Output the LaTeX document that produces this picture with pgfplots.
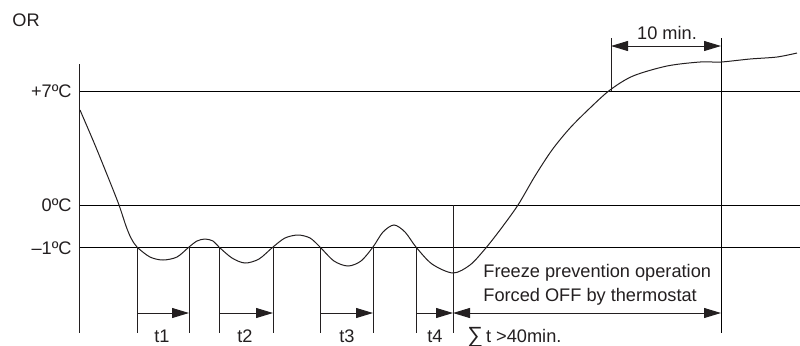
\documentclass[border=0pt]{standalone}
\usepackage{pgfplots}
\pgfplotsset{compat=1.18}
\usepackage{fontspec}
\setmainfont{Liberation Sans}
\usetikzlibrary{arrows.meta}
\definecolor{ink}{HTML}{231F20}
\definecolor{grid}{HTML}{4A4A4A}
\begin{document}
\begin{tikzpicture}[font=\fontsize{9.1}{11}\selectfont]
\useasboundingbox (0,0) rectangle (400pt,172.5pt);
\begin{axis}[
  x=0.5pt, y=0.5pt, y dir=reverse,
  xmin=0, xmax=800, ymin=0, ymax=345,
  hide axis, clip=false, anchor=south west, at={(0,0)},
  every axis plot/.append style={line width=0.5pt},
  harr/.style={ink, -{Triangle[length=8.5pt,width=5pt]}},
  darr/.style={ink, {Triangle[length=8.5pt,width=5pt]}-{Triangle[length=8.5pt,width=5pt]}},
]
% horizontal reference lines
\addplot[grid] coordinates {(79,91) (800,91)};
\addplot[grid] coordinates {(79,205) (800,205)};
\addplot[grid] coordinates {(79,247) (800,247)};
% vertical lines
\addplot[ink] coordinates {(79,64) (79,333)};
\addplot[ink] coordinates {(137,247) (137,333)};
\addplot[ink] coordinates {(189,247) (189,333)};
\addplot[ink] coordinates {(219,247) (219,333)};
\addplot[ink] coordinates {(273,247) (273,333)};
\addplot[ink] coordinates {(320,247) (320,333)};
\addplot[ink] coordinates {(373,247) (373,333)};
\addplot[ink] coordinates {(416,247) (416,333)};
\addplot[ink] coordinates {(453,205) (453,333)};
\addplot[ink] coordinates {(611,38) (611,91)};
\addplot[grid] coordinates {(721,38) (721,333)};
% temperature curve
\addplot[ink, smooth, tension=0.5] coordinates {
(80,110) (95,145) (110,182) (119,205) (126,226) (131,238)
(137,247) (150,257) (163,260) (177,257) (189,247) (197,241) (205,239) (213,241)
(219,247) (232,258) (245,263) (259,259) (273,247) (285,238) (298,235) (310,238)
(320,247) (334,261) (348,266) (361,261) (373,247) (383,232) (394,225) (405,232)
(416,247) (432,264) (453,273) (470,265) (485,249) (500,230) (518,205) (535,176)
(552,150) (570,128) (590,108) (610,90) (633,76) (667,66) (700,62)
(721,62) (750,59) (777,57) (797,53)};
% time arrows
\addplot[harr] coordinates {(137,313) (189,313)};
\addplot[harr] coordinates {(219,313) (273,313)};
\addplot[harr] coordinates {(320,313) (373,313)};
\addplot[harr] coordinates {(416,313) (453,313)};
\addplot[darr] coordinates {(453,313) (721,313)};
\addplot[darr] coordinates {(611,46) (721,46)};
% labels
\node[ink] at (axis cs:26,20) {OR};
\node[ink, anchor=east, inner sep=0pt] at (axis cs:72,91) {+7ºC};
\node[ink, anchor=east, inner sep=0pt] at (axis cs:72,205) {0ºC};
\node[ink, anchor=east, inner sep=0pt] at (axis cs:72,248) {–1ºC};
\node[ink, inner sep=0pt] at (axis cs:667,33) {10 min.};
\node[ink, anchor=base west, inner sep=0pt] at (axis cs:483,277) {Freeze prevention operation};
\node[ink, anchor=base west, inner sep=0pt] at (axis cs:483,301) {Forced OFF by thermostat};
\node[ink, anchor=base, inner sep=0pt] at (axis cs:162,342) {t1};
\node[ink, anchor=base, inner sep=0pt] at (axis cs:245,342) {t2};
\node[ink, anchor=base, inner sep=0pt] at (axis cs:347,342) {t3};
\node[ink, anchor=base, inner sep=0pt] at (axis cs:435,342) {t4};
\node[ink, anchor=base west, inner sep=0pt] at (axis cs:467,342) {{\fontsize{11}{11}\selectfont ∑}\,t >40min.};
\end{axis}
\end{tikzpicture}
\end{document}
